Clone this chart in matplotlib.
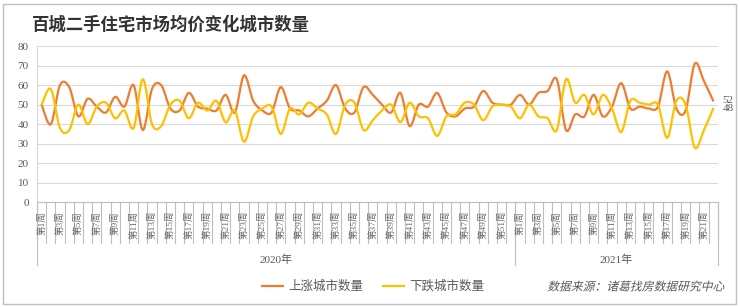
import numpy as np
import matplotlib
matplotlib.use("Agg")
from matplotlib import pyplot as plt
from matplotlib.path import Path
from matplotlib.patches import PathPatch, Rectangle
from matplotlib.lines import Line2D
from matplotlib.textpath import TextPath
from matplotlib.font_manager import FontProperties
from matplotlib.transforms import Affine2D

plt.rcParams['font.family'] = ['Liberation Serif', 'Noto Sans CJK SC', 'DejaVu Sans']

title = "百城二手住宅市场均价变化城市数量"
weeks_2020 = [f"第{w}周" for w in range(1, 53)]
weeks_2021 = [f"第{w}周" for w in range(1, 23)]
years = ["2020年", "2021年"]

up = [50, 40, 60, 59, 44, 53, 49, 46, 54, 49,
      60, 37, 58, 60, 48, 47, 56, 49, 48, 47,
      55, 46, 65, 52, 47, 46, 59, 48, 47, 44,
      48, 52, 60, 48, 46, 59, 55, 50, 46, 56,
      39, 50, 49, 56, 46, 44, 48, 49, 57, 51,
      50, 50,
      55, 50, 56, 57, 63, 37, 45, 44, 55, 44,
      49, 61, 48, 49, 48, 49, 67, 48, 47, 71,
      62, 52]
down = [50, 58, 38, 37, 50, 40, 49, 51, 43, 47,
        38, 63, 40, 39, 50, 52, 43, 51, 47, 52,
        41, 47, 31, 44, 48, 49, 35, 48, 45, 51,
        48, 45, 35, 50, 51, 37, 42, 47, 50, 41,
        51, 44, 43, 34, 44, 45, 51, 50, 42, 49,
        50, 49,
        43, 50, 44, 43, 37, 63, 51, 55, 45, 55,
        48, 36, 52, 51, 50, 50, 33, 52, 50, 28,
        37, 48]

c_up = "#ED7D31"
c_down = "#FFC000"
txt = "#595959"
W, H = 740, 307


def smooth_path(x, y):
    # Excel-like smoothed line: cubic bezier through every point
    x = np.asarray(x, float)
    y = np.asarray(y, float)
    n = len(x)
    verts = [(x[0], y[0])]
    codes = [Path.MOVETO]
    for i in range(n - 1):
        i0 = max(i - 1, 0)
        i3 = min(i + 2, n - 1)
        c1 = (x[i] + (x[i + 1] - x[i0]) / 6, y[i] + (y[i + 1] - y[i0]) / 6)
        c2 = (x[i + 1] - (x[i3] - x[i]) / 6, y[i + 1] - (y[i3] - y[i]) / 6)
        verts += [c1, c2, (x[i + 1], y[i + 1])]
        codes += [Path.CURVE4] * 3
    return Path(verts, codes)


labels = weeks_2020 + weeks_2021
n = len(labels)
xs = np.arange(n)

fig = plt.figure(figsize=(W / 100, H / 100), dpi=100)
ax = fig.add_axes([0.05, 0.341, 0.92, 0.509])

ax.add_patch(PathPatch(smooth_path(xs, up), fill=False, edgecolor=c_up, lw=1.6,
                       capstyle='round', joinstyle='round', zorder=3))
ax.add_patch(PathPatch(smooth_path(xs, down), fill=False, edgecolor=c_down, lw=1.6,
                       capstyle='round', joinstyle='round', zorder=4))

ax.set_xlim(-0.5, n - 0.5)
ax.set_ylim(0, 80)
ax.set_yticks(range(0, 81, 10))
ax.tick_params(axis='y', length=0, labelsize=8, labelcolor=txt, pad=6)
ax.grid(axis='y', color="#d9d9d9", lw=0.8)
ax.set_axisbelow(True)
ax.set_xticks([])
for s in ['top', 'right']:
    ax.spines[s].set_visible(False)
ax.spines['left'].set_color("#d9d9d9")
ax.spines['bottom'].set_color("#bfbfbf")

tr = ax.get_xaxis_transform()
# category separators
for b in range(n + 1):
    ax.add_line(Line2D([b - 0.5, b - 0.5], [0, -0.26], transform=tr, color="#bfbfbf",
                       lw=0.8, clip_on=False))
# year group separators
for b in [0, len(weeks_2020), n]:
    ax.add_line(Line2D([b - 0.5, b - 0.5], [0, -0.40], transform=tr, color="#bfbfbf",
                       lw=0.8, clip_on=False))
for i, lab in enumerate(labels):
    wk = i + 1 if i < len(weeks_2020) else i - len(weeks_2020) + 1
    if wk % 2 == 1:
        ax.text(i, -0.055, lab, transform=tr, rotation=90, ha='center', va='top',
                fontsize=6.8, color="#6a6a6a")
ax.text((len(weeks_2020) - 1) / 2, -0.37, years[0], transform=tr, ha='center',
        va='center', fontsize=8, color=txt)
ax.text((len(weeks_2020) + n - 1) / 2, -0.37, years[1], transform=tr, ha='center',
        va='center', fontsize=8, color=txt)

# end labels
ax.text(n - 0.5 + 0.5, up[-1], str(up[-1]), fontsize=8, color=txt, va='center',
        ha='left', clip_on=False)
ax.text(n - 0.5 + 0.5, down[-1], str(down[-1]), fontsize=8, color=txt, va='center',
        ha='left', clip_on=False)

# title
fig.text(32 / W, 1 - 25 / H, title, fontsize=12.5, fontweight='bold',
         family=['Noto Sans CJK SC'], color="#333333", va='center', ha='left')

# legend
ly = 1 - 286 / H
fig.add_artist(Line2D([262 / W, 283 / W], [ly, ly], color=c_up, lw=1.6))
fig.text(288 / W, ly, "上涨城市数量", fontsize=9, color=txt, va='center',
         family=['Noto Sans CJK SC'])
fig.add_artist(Line2D([383 / W, 404 / W], [ly, ly], color=c_down, lw=1.6))
fig.text(409 / W, ly, "下跌城市数量", fontsize=9, color=txt, va='center',
         family=['Noto Sans CJK SC'])

# source note, slanted like the original italic
src = "数据来源：诸葛找房数据研究中心"
tp = TextPath((0, 0), src, size=8.5, prop=FontProperties(family='Noto Sans CJK SC'))
bb = tp.get_extents()
k = fig.dpi / 72
src_w = bb.width * k
src_tr = (Affine2D().translate(-bb.x0, -(bb.y0 + bb.height / 2)).skew_deg(14, 0)
          .scale(k).translate(725 - src_w, H - 286))
fig.add_artist(PathPatch(tp, transform=src_tr, facecolor=txt, edgecolor='none'))

# outer border
fig.add_artist(Rectangle((3 / W, 3 / H), 733 / W, 300 / H, fill=False,
                         edgecolor="#bfbfbf", lw=1, transform=fig.transFigure))

fig.savefig("out.png", dpi=100)
